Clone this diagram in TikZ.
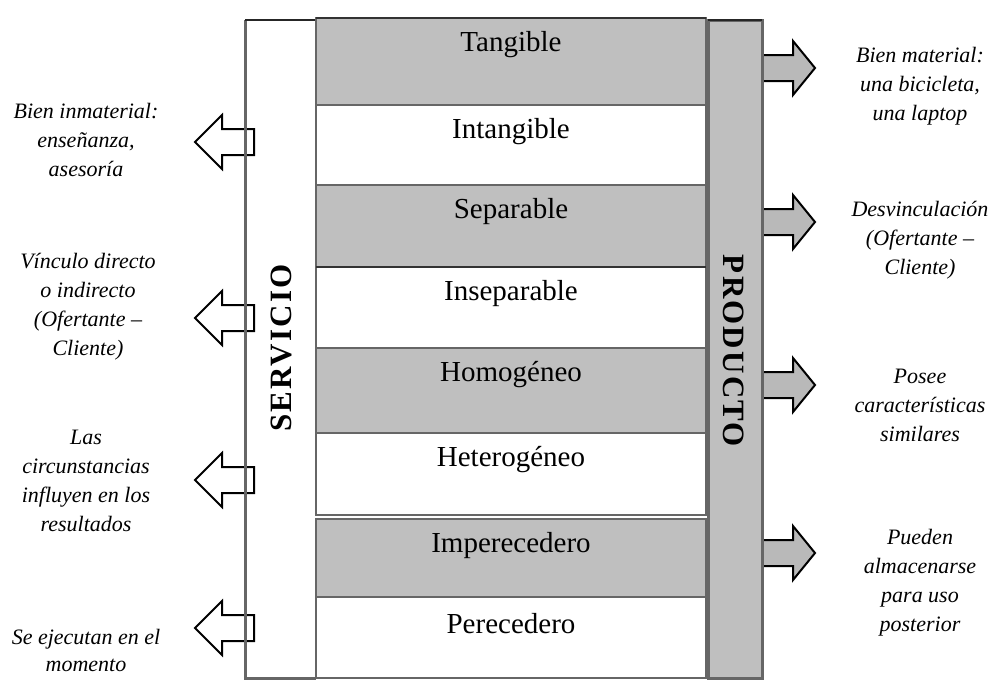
\documentclass[tikz,border=0pt]{standalone}
\usepackage{fontspec}
\setmainfont{Liberation Serif}

\begin{document}
\begin{tikzpicture}[x=1pt,y=-1pt,
    note/.style={font=\fontsize{22}{29}\selectfont\itshape,align=center},
    rowtext/.style={font=\fontsize{29}{30}\selectfont},
    coltext/.style={font=\fontsize{31}{31}\selectfont\bfseries\addfontfeature{LetterSpace=7}}]
    \useasboundingbox (0,0) rectangle (993,680);
    % left arrows (hollow)
    \foreach \y in {142,318,480,628}
        \draw[line width=2pt,fill=white] (195,\y) -- (222,\y-27) -- (222,\y-13) -- (254,\y-13)
            -- (254,\y+13) -- (222,\y+13) -- (222,\y+27) -- cycle;
    % right arrows (gray)
    \foreach \y in {68,222,385,553}
        \draw[line width=2pt,fill=gray!55] (815,\y) -- (793,\y-27) -- (793,\y-13) -- (756,\y-13)
            -- (756,\y+13) -- (793,\y+13) -- (793,\y+27) -- cycle;
    % columns
    \draw[line width=3pt,black!60] (245,20) -- (245,678) -- (316,678);
    \draw[line width=2.5pt,black!85] (245,20) -- (316,20);
    \fill[gray!50] (708,20) rectangle (762,678);
    \draw[line width=3pt,black!60] (708,20) rectangle (762,678);
    \draw[line width=2.5pt,black!85] (708,20) -- (762,20);
    \node[coltext,rotate=90] (servicio) at (281,348) {SERVICIO};
    \node[coltext,rotate=-90] (producto) at (734,351) {PRODUCTO};
    % rows
    \foreach \t/\b/\c/\n/\txt in {18/105/gray!50/tang/Tangible,105/185/white/intang/Intangible,
        185/267/gray!50/sep/Separable,267/348/white/insep/Inseparable,
        348/433/gray!50/homo/Homogéneo,433/515/white/hetero/Heterogéneo,
        519/597/gray!50/imper/Imperecedero,597/678/white/perec/Perecedero} {
        \filldraw[fill=\c,draw=black!60,line width=2pt] (316,\t) rectangle (706,\b);
        \node[rowtext] (\n) at (511,\t+27) {\txt};
    }
    \draw[line width=2.5pt,black!80] (316,18) -- (706,18);
    \draw[line width=2.5pt,black!80] (316,267) -- (706,267);
    % labels
    \node[note] (inmaterial) at (86,140) {Bien inmaterial:\\enseñanza,\\asesoría};
    \node[note] (vinculo) at (88,307) {Vínculo directo\\o indirecto\\(Ofertante –\\Cliente)};
    \node[note] (circuns) at (86,481) {Las\\circunstancias\\influyen en los\\resultados};
    \node[note,font=\fontsize{22}{27}\selectfont\itshape] (ejecutan) at (86,650) {Se ejecutan en el\\momento};
    \node[note] (material) at (920,86) {Bien material:\\una bicicleta,\\una laptop};
    \node[note] (desvinc) at (920,240) {Desvinculación\\(Ofertante –\\Cliente)};
    \node[note] (posee) at (920,405) {Posee\\características\\similares};
    \node[note] (almacen) at (920,583) {Pueden\\almacenarse\\para uso\\posterior};
\end{tikzpicture}
\end{document}
